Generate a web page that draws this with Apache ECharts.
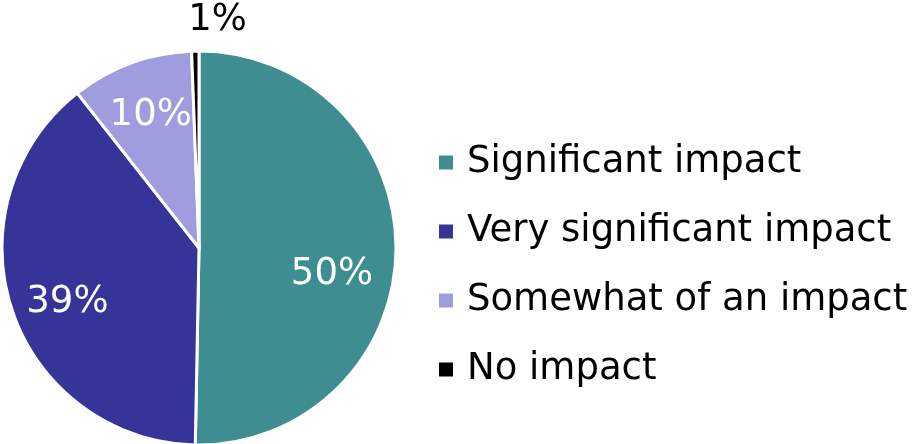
<!DOCTYPE html>
<html>
<head>
<meta charset="utf-8">
<script src="https://cdn.jsdelivr.net/npm/echarts@6/dist/echarts.min.js"></script>
<style>
html,body{margin:0;padding:0;background:#fff;}
#chart{width:915px;height:444px;}
</style>
</head>
<body>
<div id="chart"></div>
<script>
const categories = ['Significant impact', 'Very significant impact', 'Somewhat of an impact', 'No impact'];
const values = [50.3, 39.1, 10.0, 0.6];
const labels = ['50%', '39%', '10%', '1%'];
const colors = ['#3E8D90', '#363399', '#A09DDE', '#000000'];
const labelOffsets = [[-10, 25], [4, 9], [1, 2], [57, -9]];

const chart = echarts.init(document.getElementById('chart'), null, {renderer: 'canvas'});
const FONT = '"DejaVu Sans", Verdana, sans-serif';

const mainData = categories.map((c, i) => ({
  name: c, value: values[i], itemStyle: {color: colors[i]}
}));
const labelData = categories.map((c, i) => {
  const d = {name: c, value: values[i], itemStyle: {color: 'rgba(0,0,0,0)'},
    label: {offset: labelOffsets[i]}};
  if (i === 3) {
    d.label = {position: 'outside', color: '#000', offset: labelOffsets[i]};
    d.labelLine = {show: false, length: 22, length2: 0};
  }
  return d;
});

chart.setOption({
  animation: false,
  backgroundColor: '#fff',
  legend: {
    orient: 'vertical',
    left: 437,
    top: 144,
    padding: 0,
    itemWidth: 16,
    itemHeight: 16,
    itemGap: 32,
    icon: 'rect',
    data: categories,
    textStyle: {fontFamily: FONT, fontSize: 37, lineHeight: 37, color: '#000', padding: [0, 0, 0, 8]}
  },
  series: [
    {
      type: 'pie',
      center: [199, 248],
      radius: [0, 197],
      startAngle: 90,
      clockwise: true,
      silent: true,
      label: {show: false},
      labelLine: {show: false},
      itemStyle: {borderColor: '#fff', borderWidth: 3},
      data: mainData
    },
    {
      type: 'pie',
      center: [199, 248],
      radius: [83, 197],
      startAngle: 90,
      clockwise: true,
      silent: true,
      legendHoverLink: false,
      avoidLabelOverlap: false,
      label: {
        show: true,
        position: 'inside',
        fontFamily: FONT,
        fontSize: 37,
        color: '#fff',
        formatter: p => labels[p.dataIndex]
      },
      labelLine: {show: false},
      data: labelData
    }
  ]
});
</script>
</body>
</html>
